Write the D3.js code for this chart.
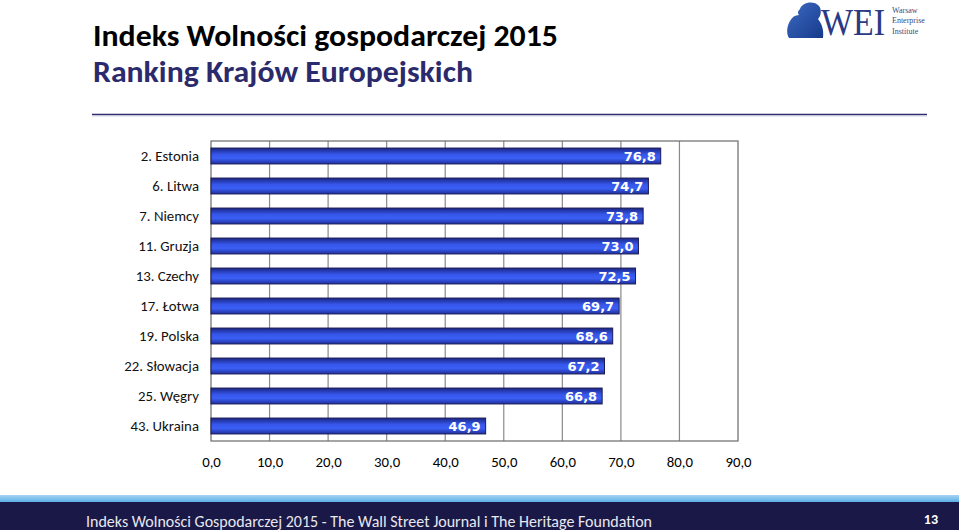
<!DOCTYPE html>
<html>
<head>
<meta charset="utf-8">
<script src="https://cdn.jsdelivr.net/npm/d3@7/dist/d3.min.js"></script>
<style>
  html, body { margin: 0; padding: 0; background: #fff; }
  svg { display: block; }
</style>
</head>
<body>
<svg id="chart" width="959" height="530"></svg>
<script>
const categories = ["2. Estonia","6. Litwa","7. Niemcy","11. Gruzja","13. Czechy","17. Łotwa","19. Polska","22. Słowacja","25. Węgry","43. Ukraina"];
const values = [76.8, 74.7, 73.8, 73.0, 72.5, 69.7, 68.6, 67.2, 66.8, 46.9];
const ticks = [0, 10, 20, 30, 40, 50, 60, 70, 80, 90];
const titleText = "Indeks Wolności gospodarczej 2015";
const subtitleText = "Ranking Krajów Europejskich";
const footerText = "Indeks Wolności Gospodarczej 2015 - The Wall Street Journal i The Heritage Foundation";
const pageNumber = "13";

(function() {
const calibri = "Carlito, Calibri, Lato, 'Open Sans', sans-serif";
const svg = d3.select("#chart");
const fmt = v => d3.format(".1f")(v).replace(".", ",");

const defs = svg.append("defs");
const g1 = defs.append("linearGradient").attr("id","barGrad").attr("x1",0).attr("y1",0).attr("x2",0).attr("y2",1);
[["0%","#1a2582"],["40%","#3656ea"],["65%","#3a5ff5"],["100%","#1f2e9c"]].forEach(s=>g1.append("stop").attr("offset",s[0]).attr("stop-color",s[1]));
const g2 = defs.append("linearGradient").attr("id","stripGrad").attr("x1",0).attr("y1",0).attr("x2",0).attr("y2",1);
[["0%","#a8d4f5"],["100%","#5aaee8"]].forEach(s=>g2.append("stop").attr("offset",s[0]).attr("stop-color",s[1]));
const g3 = defs.append("linearGradient").attr("id","logoGrad").attr("x1",0).attr("y1",0).attr("x2",1).attr("y2",1);
[["0%","#3d6bc4"],["100%","#163a8a"]].forEach(s=>g3.append("stop").attr("offset",s[0]).attr("stop-color",s[1]));

// Titles
svg.append("text").attr("x",93).attr("y",46).attr("font-family",calibri).attr("font-weight","bold")
  .attr("font-size",30).attr("fill","#000").attr("textLength",465).attr("lengthAdjust","spacingAndGlyphs").text(titleText);
svg.append("text").attr("x",93).attr("y",82).attr("font-family",calibri).attr("font-weight","bold")
  .attr("font-size",30).attr("fill","#2b2a6c").attr("textLength",380).attr("lengthAdjust","spacingAndGlyphs").text(subtitleText);

// Separator line
svg.append("line").attr("x1",92).attr("x2",927).attr("y1",114.5).attr("y2",114.5)
  .attr("stroke","#2e2b6e").attr("stroke-width",1.6);
svg.append("line").attr("x1",92).attr("x2",927).attr("y1",116).attr("y2",116)
  .attr("stroke","#c8c8dc").attr("stroke-width",0.8);

// Logo
const logo = svg.append("g");
logo.append("path").attr("fill","url(#logoGrad)")
  .attr("d","M800,9 C802,2 814,0 819,6 C822,10 821,16 818,19 C822,24 824,30 823,38 L789,38 C786,33 787,26 790,21 C792,17 795,15 799,15 C797,13 798,11 800,9 Z");
logo.append("text").attr("x",821).attr("y",35).attr("font-family","'Liberation Serif','DejaVu Serif',serif")
  .attr("font-size",38).attr("fill","#2a3a85").attr("textLength",64).attr("lengthAdjust","spacingAndGlyphs").text("WEI");
["Warsaw","Enterprise","Institute"].forEach((t,i)=>{
  logo.append("text").attr("x",892).attr("y",12.5+i*10.5).attr("font-family","'Liberation Serif','DejaVu Serif',serif")
    .attr("font-size",8).attr("fill","#3a4a80").text(t);
});

// Chart
const pLeft = 211, pRight = 738, pTop = 141, pBottom = 441;
const x = d3.scaleLinear().domain([0, 90]).range([pLeft, pRight]);
const y = d3.scaleBand().domain(categories).range([pTop, pBottom]).paddingInner(0.47).paddingOuter(0.235);

const plot = svg.append("g");
plot.selectAll("line.grid").data(ticks.slice(1, -1)).join("line").attr("class","grid")
  .attr("x1",d=>x(d)).attr("x2",d=>x(d)).attr("y1",pTop).attr("y2",pBottom)
  .attr("stroke","#8a8a8a").attr("stroke-width",1.2);
plot.append("rect").attr("x",pLeft).attr("y",pTop).attr("width",pRight-pLeft).attr("height",pBottom-pTop)
  .attr("fill","none").attr("stroke","#6a6a6a").attr("stroke-width",1.2);

plot.selectAll("rect.bar").data(values).join("rect").attr("class","bar")
  .attr("x",x(0)).attr("y",(d,i)=>y(categories[i]))
  .attr("width",d=>x(d)-x(0)).attr("height",y.bandwidth())
  .attr("fill","url(#barGrad)").attr("stroke","#1b1b55").attr("stroke-width",1);

plot.selectAll("text.val").data(values).join("text").attr("class","val")
  .attr("x",d=>x(d)-5).attr("y",(d,i)=>y(categories[i])+y.bandwidth()/2+4.5)
  .attr("text-anchor","end").attr("font-family","'DejaVu Sans', Verdana, sans-serif")
  .attr("font-weight","bold").attr("font-size",13).attr("fill","#fff").text(d=>fmt(d));

// Y axis labels
const yAxis = d3.axisLeft(y).tickSize(0).tickPadding(12);
const yg = svg.append("g").attr("transform",`translate(${pLeft},0)`).call(yAxis);
yg.select(".domain").remove();
yg.selectAll("text").attr("font-family",calibri).attr("font-size",14.8).attr("fill","#111");

// X axis labels
const xAxis = d3.axisBottom(x).tickValues(ticks).tickSize(0).tickPadding(15).tickFormat(fmt);
const xg = svg.append("g").attr("transform",`translate(0,${pBottom})`).call(xAxis);
xg.select(".domain").remove();
xg.selectAll("text").attr("font-family",calibri).attr("font-size",14.8).attr("fill","#000");

// Footer
svg.append("rect").attr("x",0).attr("y",495).attr("width",959).attr("height",7).attr("fill","url(#stripGrad)");
svg.append("rect").attr("x",0).attr("y",502).attr("width",959).attr("height",28).attr("fill","#1a1846");
svg.append("text").attr("x",86).attr("y",527).attr("font-family",calibri).attr("font-size",16.5)
  .attr("fill","#e8e8f0").attr("textLength",566).attr("lengthAdjust","spacingAndGlyphs").text(footerText);
svg.append("text").attr("x",938).attr("y",524).attr("text-anchor","end").attr("font-family",calibri)
  .attr("font-weight","bold").attr("font-size",14).attr("fill","#fff").text(pageNumber);
})();
</script>
</body>
</html>
